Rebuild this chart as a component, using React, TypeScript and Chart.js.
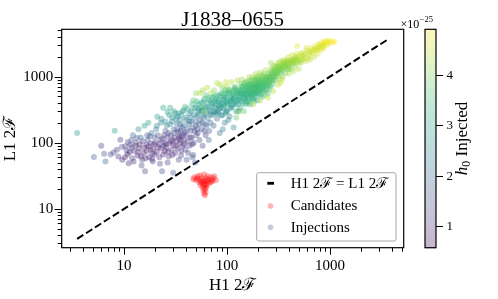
import React, { useEffect, useRef } from "react";
import { Chart, registerables } from "chart.js";

Chart.register(...registerables);

// ---------- text ----------
const TITLE = "J1838–0655";
const X_LABEL = "H1 2ℱ";
const Y_LABEL = "L1 2ℱ";
const LEGEND_LABELS = ["H1 2ℱ = L1 2ℱ", "Candidates", "Injections"];
const CB_LABEL_MAIN = "h";
const CB_LABEL_SUB = "0";
const CB_LABEL_REST = " Injected";
const CB_EXPONENT_BASE = "×10";
const CB_EXPONENT_POWER = "−25";

// ---------- axes ----------
const X_RANGE = [2.48, 5200];
const Y_RANGE = [2.58, 5190];
const MAJOR_TICKS = [10, 100, 1000];
const CB_RANGE = [0.57, 4.91];
const CB_TICKS = [1, 2, 3, 4];

// ---------- data ----------
const EQUALITY_LINE = [3.5, 3600];

// [H1 2F, L1 2F]
const candidates: [number, number][] = [
  [48, 30], [52, 31], [55, 32], [60, 33], [65, 31], [70, 30], [74, 29], [78, 27],
  [50, 27], [53, 28], [57, 29], [62, 29], [66, 28], [71, 27], [56, 26], [59, 27],
  [63, 26], [67, 25], [58, 24], [61, 24], [64, 23], [55, 23], [60, 22], [63, 21],
  [58, 21], [61, 20], [59, 19], [62, 18], [60, 17], [61, 16], [57, 25], [65, 27],
  [69, 25], [54, 25], [72, 26], [51, 29], [75, 31], [47, 28], [60, 26], [62, 23],
];

// [H1 2F, L1 2F, h0 (x1e-25)]
const injectionsLow: [number, number, number][] = [
  [3.5, 140, 2.7], [5.1, 61, 1.8], [6.0, 90, 1.3], [6.4, 68, 1.6], [6.6, 52, 1.9],
  [7.4, 66, 1.5], [7.9, 71, 1.4], [8.5, 78, 1.2], [8.1, 151, 2.9], [9.2, 111, 1.3],
  [9.6, 55, 1.0], [8.8, 62, 1.1], [9.5, 86, 1.6],
  [10.3, 88, 1.2], [11.5, 93, 1.1], [11.1, 49, 1.0], [10.8, 66, 0.9], [12.0, 58, 1.3],
  [12.5, 75, 1.1], [13.0, 100, 1.6], [13.5, 64, 0.9], [14.0, 82, 1.0], [14.5, 120, 1.9],
  [15.0, 55, 1.2], [15.5, 70, 0.8], [16.0, 37, 1.5], [16.5, 92, 1.1], [17.0, 110, 1.4],
  [17.5, 60, 1.0], [18.0, 78, 0.9], [18.5, 140, 2.2], [19.0, 52, 1.3], [19.5, 95, 1.0],
  [12.2, 130, 2.0], [13.8, 160, 2.6], [15.8, 180, 2.8], [17.2, 200, 2.9], [11.8, 110, 1.7],
  [14.8, 45, 1.4], [16.8, 130, 1.8], [18.8, 68, 1.1], [19.8, 120, 1.5], [10.6, 76, 1.3],
  [10.2, 60, 1.0], [10.9, 102, 1.4], [11.3, 72, 0.9], [11.9, 84, 1.2], [12.4, 52, 1.1],
  [12.9, 90, 1.0], [13.3, 118, 1.5], [13.7, 72, 1.2], [14.2, 95, 0.8], [14.6, 62, 1.0],
  [15.2, 105, 1.3], [15.7, 84, 0.9], [16.2, 58, 1.1], [16.6, 75, 1.2], [17.3, 88, 0.8],
  [17.8, 125, 1.6], [18.3, 98, 1.2], [18.7, 56, 1.0], [19.2, 80, 0.9], [19.7, 66, 1.1],
];

const injectionsMid: [number, number, number][] = [
  [20.5, 160, 2.3], [21, 247, 2.9], [21.5, 85, 1.0], [22, 60, 1.2], [22.5, 110, 1.1],
  [23.4, 37, 1.6], [24, 339, 3.0], [24.5, 130, 1.4], [25, 75, 0.9], [25.5, 95, 1.0],
  [26, 180, 2.4], [26.5, 50, 1.3], [27, 140, 1.2], [28, 339, 3.1], [28.5, 105, 1.1],
  [29, 210, 2.6], [29.5, 65, 1.0], [30, 35, 1.7], [30.5, 160, 1.9], [31, 120, 1.2],
  [32, 88, 1.0], [33, 250, 2.7], [33.5, 145, 1.5], [34, 55, 1.4], [35, 190, 2.2],
  [35.5, 110, 1.1], [36, 75, 1.2], [37, 300, 2.9], [38, 135, 1.3], [39, 350, 3.5],
  [39.5, 220, 2.5], [22.8, 200, 2.5], [27.5, 260, 2.8], [31.5, 280, 2.7], [36.5, 170, 1.6],
  [24.2, 90, 1.3], [26.8, 72, 1.1], [32.5, 195, 2.0], [38.5, 95, 1.4], [34.5, 125, 1.0],
  [41, 160, 1.7], [42, 70, 1.3], [43, 280, 2.6], [44, 120, 1.2], [45, 210, 2.0],
  [46, 95, 1.1], [47, 440, 3.7], [47, 65, 1.5], [48, 330, 2.9], [49, 50, 1.6],
  [50, 180, 1.4], [51, 250, 2.3], [52, 140, 1.2], [53, 380, 3.1], [54, 110, 1.3],
  [55, 565, 4.3], [55, 220, 1.8], [56, 300, 2.8], [56.5, 345, 3.8], [57, 160, 1.5],
  [58, 90, 1.4], [59, 420, 3.2], [60, 260, 2.4], [61, 190, 1.7], [62, 130, 1.3],
  [63, 350, 2.9], [64, 680, 4.4], [65, 230, 2.1], [66, 480, 3.4], [67, 150, 1.6],
  [68, 300, 2.6], [69, 200, 1.9], [70, 400, 3.0], [70, 560, 4.2], [44.5, 240, 2.4],
  [52.5, 300, 2.5], [58.5, 240, 2.2], [62.5, 520, 3.6], [66.5, 110, 1.8], [48.5, 150, 1.4],
  [20.2, 100, 1.3], [20.8, 72, 0.9], [21.3, 130, 1.5], [21.8, 95, 1.1], [22.3, 48, 1.4],
  [22.9, 82, 1.0], [23.5, 115, 1.2], [24.0, 66, 0.8], [24.7, 100, 1.1], [25.2, 150, 1.8],
  [25.8, 84, 1.0], [26.3, 120, 1.3], [27.2, 62, 1.2], [27.8, 98, 0.9], [28.3, 130, 1.4],
  [28.9, 78, 1.0], [29.6, 110, 1.2], [30.2, 92, 0.9], [30.8, 140, 1.5], [31.4, 70, 1.1],
  [32.2, 105, 1.0], [32.8, 160, 1.7], [33.3, 82, 1.2], [34.2, 118, 1.1], [34.8, 98, 0.9],
  [35.3, 150, 1.4], [35.9, 64, 1.3], [36.4, 125, 1.2], [37.2, 90, 1.0], [37.8, 180, 1.9],
  [38.3, 110, 1.2], [38.9, 145, 1.5], [39.4, 78, 1.3], [40.2, 130, 1.4], [41.5, 105, 1.2],
  [42.5, 190, 1.9], [43.2, 90, 1.1], [44.3, 150, 1.6], [45.5, 120, 1.3], [46.5, 170, 1.7],
  [47.5, 100, 1.3], [49.5, 210, 2.0], [50.5, 130, 1.5], [51.5, 160, 1.6], [53.5, 190, 1.9],
  [57.5, 200, 2.0], [60.5, 150, 1.7], [63.5, 180, 1.9], [46, 60, 1.8], [40.5, 55, 1.5],
  [20.8, 180, 2.5], [23, 230, 2.7], [25, 210, 2.6], [26.5, 290, 2.9], [28, 190, 2.4],
  [29.5, 240, 2.7], [30.5, 300, 2.9], [32, 230, 2.6], [34, 280, 2.8], [35, 220, 2.4],
  [36, 260, 2.7], [38, 310, 2.9], [40, 240, 2.5], [41.5, 330, 3.0], [43, 210, 2.3],
  [45, 300, 2.8], [46, 380, 3.1], [48, 260, 2.6], [50, 340, 2.9], [51, 420, 3.3],
  [53, 270, 2.6], [54, 330, 2.8], [57, 400, 3.1], [58, 310, 2.7], [60, 460, 3.3],
  [61, 340, 2.8], [63, 280, 2.6], [65, 400, 3.0], [67, 330, 2.8], [68, 440, 3.2],
  [69, 270, 2.5], [50, 560, 4.1], [58, 620, 4.3], [60, 300, 4.0],
];

const injectionsHigh: [number, number, number][] = [
  [72, 260, 2.3], [74, 180, 1.8], [75, 620, 4.1], [76, 340, 2.9], [78, 450, 3.2],
  [80, 800, 4.4], [80, 230, 2.0], [82, 300, 2.6], [84, 520, 3.4], [85, 140, 2.1],
  [86, 380, 2.9], [88, 260, 2.4], [90, 680, 3.9], [92, 330, 2.7], [94, 450, 3.1],
  [95, 200, 2.2], [97, 820, 4.5], [98, 550, 3.3], [100, 300, 2.6], [102, 400, 2.9],
  [104, 640, 3.6], [106, 250, 2.4], [108, 480, 3.1], [110, 830, 4.4], [112, 360, 2.8],
  [114, 560, 3.4], [116, 170, 2.6], [118, 420, 3.0], [120, 700, 3.8], [122, 300, 2.7],
  [124, 520, 3.2], [126, 880, 4.3], [128, 380, 2.9], [130, 620, 3.5], [73, 400, 3.1],
  [83, 360, 2.7], [93, 560, 3.5], [103, 220, 2.3], [113, 460, 3.0], [123, 240, 3.8],
  [91, 160, 2.4], [77, 300, 2.5], [99, 420, 3.0], [117, 620, 3.6],
  [71, 350, 2.9], [72, 480, 3.3], [74, 290, 2.6], [76, 420, 3.1], [78, 370, 2.9],
  [79, 520, 3.4], [81, 280, 2.6], [83, 440, 3.1], [85, 330, 2.8], [87, 500, 3.3],
  [89, 400, 3.0], [90, 260, 2.6], [92, 460, 3.2], [94, 360, 2.9], [96, 620, 3.6],
  [98, 300, 2.7], [100, 500, 3.2], [101, 380, 3.0], [105, 560, 3.4], [107, 330, 2.8],
  [109, 430, 3.1], [111, 600, 3.5], [115, 380, 3.0], [119, 500, 3.3], [121, 640, 3.6],
  [125, 430, 3.1], [127, 560, 3.4], [129, 300, 2.9],
  [75, 500, 3.3], [78, 280, 2.7], [82, 420, 3.1], [86, 330, 2.9], [88, 560, 3.4],
  [92, 380, 3.0], [95, 480, 3.2], [97, 280, 2.8], [103, 600, 3.4], [106, 420, 3.1],
  [110, 340, 2.9], [112, 520, 3.2], [116, 460, 3.1], [118, 680, 3.5], [122, 380, 3.0],
  [126, 580, 3.3], [130, 460, 3.2], [85, 760, 4.4], [100, 700, 4.3], [130, 300, 4.2],
  [132, 450, 3.1], [134, 335, 2.9], [136, 780, 3.9], [138, 540, 3.3], [140, 900, 4.2],
  [142, 400, 3.0], [144, 650, 3.5], [146, 300, 3.7], [148, 480, 3.1], [150, 720, 3.7],
  [152, 560, 3.3], [154, 420, 3.0], [157, 400, 4.2], [158, 850, 4.0], [160, 600, 3.4],
  [162, 480, 3.2], [164, 980, 4.3], [166, 700, 3.6], [168, 380, 3.0], [170, 540, 3.3],
  [172, 820, 3.9], [174, 640, 3.5], [176, 460, 3.2], [178, 1000, 4.2], [180, 720, 3.6],
  [182, 560, 3.3], [184, 420, 3.8], [186, 880, 3.9], [188, 640, 3.5], [190, 500, 3.2],
  [192, 1100, 4.3], [194, 760, 3.6], [196, 600, 3.4], [198, 440, 3.1], [200, 960, 4.0],
  [203, 700, 3.5], [206, 540, 3.3], [210, 440, 4.4], [212, 1150, 4.2], [215, 820, 3.7],
  [218, 640, 3.4], [220, 500, 3.3], [224, 1000, 3.9], [228, 760, 3.6], [232, 600, 3.4],
  [236, 1250, 4.3], [240, 880, 3.8], [244, 700, 3.5], [248, 560, 3.4], [250, 1100, 4.0],
  [155, 660, 3.5], [165, 520, 3.2], [175, 760, 3.7], [185, 600, 3.4], [195, 900, 3.8],
  [205, 820, 3.6], [225, 680, 3.5], [235, 520, 4.0], [245, 960, 3.8], [145, 560, 3.4],
  [208, 620, 3.5], [230, 900, 3.8], [242, 780, 3.7], [162, 760, 3.7], [188, 760, 3.6],
  [131, 500, 3.3], [133, 640, 3.5], [137, 420, 3.2], [139, 700, 3.6], [141, 560, 3.4],
  [143, 480, 3.3], [147, 800, 3.8], [149, 600, 3.5], [151, 380, 3.1], [153, 690, 3.6],
  [156, 520, 3.3], [159, 740, 3.7], [161, 420, 3.2], [163, 620, 3.5], [167, 880, 3.9],
  [169, 480, 3.3], [171, 680, 3.6], [173, 560, 3.4], [177, 900, 3.9], [179, 600, 3.5],
  [181, 460, 3.2], [183, 780, 3.7], [187, 540, 3.4], [189, 940, 4.0], [191, 680, 3.6],
  [193, 560, 3.4], [197, 820, 3.8], [199, 620, 3.5], [202, 1020, 4.1], [204, 580, 3.4],
  [207, 760, 3.7], [209, 900, 3.9], [211, 680, 3.6], [214, 540, 3.4], [216, 1050, 4.1],
  [219, 760, 3.7], [222, 880, 3.8], [226, 620, 3.5], [229, 1080, 4.1], [233, 720, 3.6],
  [238, 980, 3.9], [241, 640, 3.6], [246, 840, 3.8],
  [134, 560, 3.3], [138, 620, 3.4], [142, 720, 3.6], [146, 520, 3.3], [150, 460, 3.2],
  [152, 820, 3.8], [156, 600, 3.4], [160, 700, 3.6], [164, 560, 3.4], [168, 760, 3.6],
  [172, 620, 3.5], [176, 700, 3.6], [180, 540, 3.4], [184, 680, 3.5], [188, 860, 3.8],
  [192, 720, 3.6], [196, 700, 3.5], [200, 800, 3.7], [204, 660, 3.5], [208, 860, 3.7],
  [212, 760, 3.6], [216, 700, 3.6], [220, 940, 3.8], [226, 820, 3.7], [232, 760, 3.6],
  [238, 860, 3.7], [244, 1000, 3.9], [180, 380, 4.3],
];

const injectionsTop: [number, number, number][] = [
  [255, 820, 3.7], [260, 650, 3.5], [265, 1300, 4.2], [270, 950, 3.8], [275, 760, 3.6],
  [280, 890, 3.7], [285, 1450, 4.3], [290, 1100, 3.9], [295, 880, 3.6], [300, 1250, 4.0],
  [305, 1000, 3.8], [310, 1600, 4.3], [315, 1150, 3.9], [320, 920, 4.3], [325, 1350, 4.0],
  [330, 1700, 4.4], [335, 1100, 3.8], [340, 1500, 4.1], [345, 1250, 3.9], [350, 1000, 4.2],
  [360, 1800, 4.4], [365, 1400, 4.0], [370, 1150, 3.9], [380, 1600, 4.2], [385, 1300, 4.0],
  [390, 1950, 4.5], [400, 1100, 4.3], [405, 1500, 4.1], [410, 1750, 4.2], [420, 1300, 4.0],
  [425, 2100, 4.5], [430, 1550, 4.1], [440, 1200, 4.4], [450, 1850, 4.3], [460, 1450, 4.1],
  [470, 2200, 4.6], [480, 2900, 4.7], [490, 1650, 4.2], [495, 1300, 4.4], [500, 2000, 4.4],
  [262, 1050, 3.8], [278, 1200, 4.0], [298, 1400, 4.1], [318, 1300, 4.0], [342, 900, 4.3],
  [355, 1600, 4.2], [395, 1400, 4.1], [445, 1650, 4.2], [475, 1900, 4.4], [268, 1600, 4.2],
  [312, 750, 4.4],
  [251, 740, 3.7], [256, 1000, 3.9], [259, 880, 3.8], [263, 720, 3.6], [267, 1150, 4.0],
  [272, 860, 3.8], [276, 1000, 3.9], [282, 1300, 4.1], [287, 1000, 3.9], [292, 1250, 4.0],
  [296, 1050, 3.9], [302, 1450, 4.2], [307, 1150, 3.9], [313, 1400, 4.1], [322, 1200, 4.0],
  [328, 1550, 4.2], [338, 1300, 4.0], [348, 1700, 4.3], [358, 1350, 4.1], [368, 1650, 4.2],
  [378, 1450, 4.1], [388, 1750, 4.3], [398, 1300, 4.1], [415, 1600, 4.2], [435, 1800, 4.3],
  [455, 1600, 4.2], [465, 2000, 4.4], [485, 1800, 4.3],
  [250, 900, 3.8], [256, 820, 3.7], [262, 960, 3.8], [268, 900, 3.8], [274, 1100, 3.9],
  [280, 1000, 3.8], [288, 1150, 3.9], [296, 1200, 4.0], [304, 1100, 3.9], [312, 1250, 4.0],
  [320, 1400, 4.1], [330, 1300, 4.0], [340, 1400, 4.1], [352, 1450, 4.1], [364, 1500, 4.1],
  [376, 1550, 4.2], [392, 1600, 4.2], [408, 1650, 4.2], [424, 1700, 4.3], [442, 1750, 4.3],
  [462, 1800, 4.3], [250, 480, 4.4], [280, 600, 4.4], [330, 800, 4.5],
  [520, 1600, 4.3], [540, 2300, 4.5], [560, 1900, 4.4], [580, 1700, 4.5], [600, 2500, 4.6],
  [620, 2100, 4.5], [640, 1800, 4.4], [660, 2700, 4.6], [680, 2300, 4.5], [700, 2000, 4.5],
  [720, 2900, 4.7], [740, 2500, 4.6], [760, 2200, 4.6], [780, 3100, 4.7], [800, 2700, 4.6],
  [820, 2500, 4.7], [840, 3300, 4.8], [860, 2900, 4.7], [880, 3100, 4.7], [900, 3400, 4.8],
  [930, 3000, 4.7], [960, 3500, 4.8], [990, 3200, 4.8], [1020, 3400, 4.8], [1070, 3400, 4.9],
  [1100, 3300, 4.9], [550, 2100, 4.4], [610, 1900, 4.5], [650, 2400, 4.5], [710, 2600, 4.6],
  [770, 2800, 4.6], [830, 3000, 4.7], [870, 2700, 4.7], [940, 3300, 4.8], [590, 2700, 4.6],
  [530, 1900, 4.4], [505, 1700, 4.3], [515, 2200, 4.5], [545, 1800, 4.4], [570, 2200, 4.5],
  [630, 2300, 4.5], [690, 2500, 4.6], [750, 2600, 4.6], [810, 2900, 4.7], [890, 3300, 4.8],
];

const injections = [...injectionsLow, ...injectionsMid, ...injectionsHigh, ...injectionsTop];

// ---------- styling ----------
const FONT = "'Liberation Serif', 'DejaVu Serif', serif";
const ALPHA = 0.3;
const POINT_ALPHA = 0.36;
const VIRIDIS = [
  "#440154", "#482475", "#414487", "#355f8d", "#2a788e", "#21918c",
  "#22a884", "#44bf70", "#7ad151", "#bddf26", "#fde725",
];

function hexToRgb(h: string): number[] {
  return [1, 3, 5].map((i) => parseInt(h.slice(i, i + 2), 16));
}

function viridis(t: number, a: number): string {
  const tt = Math.max(0, Math.min(1, t));
  const n = VIRIDIS.length - 1;
  const i = Math.min(n - 1, Math.floor(tt * n));
  const f = tt * n - i;
  const c0 = hexToRgb(VIRIDIS[i]);
  const c1 = hexToRgb(VIRIDIS[i + 1]);
  const c = c0.map((v, k) => Math.round(v + (c1[k] - v) * f));
  return `rgba(${c[0]},${c[1]},${c[2]},${a})`;
}

const norm = (v: number) => (v - CB_RANGE[0]) / (CB_RANGE[1] - CB_RANGE[0]);

const CB_LEFT = 425;
const CB_RIGHT = 436;

const decorPlugin = {
  id: "decor",
  afterDraw(chart: any) {
    const { ctx, chartArea: a, scales } = chart;
    const xs = scales.x;
    const ys = scales.y;
    ctx.save();
    ctx.fillStyle = "#000";
    ctx.strokeStyle = "#000";

    // spines
    ctx.lineWidth = 1.2;
    ctx.strokeRect(a.left, a.top, a.right - a.left, a.bottom - a.top);

    // tick marks
    ctx.lineWidth = 1;
    for (let d = 1; d <= 1000; d *= 10) {
      for (let m = 1; m <= 9; m++) {
        const v = d * m;
        const len = m === 1 ? 7 : 4;
        if (v >= X_RANGE[0] && v <= X_RANGE[1]) {
          const px = Math.round(xs.getPixelForValue(v)) + 0.5;
          ctx.beginPath();
          ctx.moveTo(px, a.bottom);
          ctx.lineTo(px, a.bottom + len);
          ctx.stroke();
        }
        if (v >= Y_RANGE[0] && v <= Y_RANGE[1]) {
          const py = Math.round(ys.getPixelForValue(v)) + 0.5;
          ctx.beginPath();
          ctx.moveTo(a.left, py);
          ctx.lineTo(a.left - len, py);
          ctx.stroke();
        }
      }
    }

    // title
    ctx.textAlign = "center";
    ctx.textBaseline = "alphabetic";
    ctx.font = `21px ${FONT}`;
    ctx.fillText(TITLE, (a.left + a.right) / 2, 26);

    // axis labels
    ctx.font = `17px ${FONT}`;
    ctx.fillText(X_LABEL, (a.left + a.right) / 2, 289.5);
    ctx.save();
    ctx.translate(15, (a.top + a.bottom) / 2);
    ctx.rotate(-Math.PI / 2);
    ctx.fillText(Y_LABEL, 0, 0);
    ctx.restore();

    // legend
    const lx = 256.7, ly = 172.7, lw = 139.3, lh = 68.3;
    ctx.save();
    ctx.fillStyle = "rgba(255,255,255,0.8)";
    ctx.strokeStyle = "#a8a8a8";
    ctx.lineWidth = 1;
    ctx.beginPath();
    if ((ctx as any).roundRect) (ctx as any).roundRect(lx, ly, lw, lh, 2);
    else ctx.rect(lx, ly, lw, lh);
    ctx.fill();
    ctx.stroke();
    ctx.restore();
    const rows = [183.3, 206, 227.3];
    ctx.fillStyle = "#000";
    ctx.fillRect(267.3, rows[0] - 1.4, 6.7, 2.8);
    ctx.beginPath();
    ctx.fillStyle = "rgba(255,0,0,0.3)";
    ctx.arc(270.5, rows[1], 2.8, 0, Math.PI * 2);
    ctx.fill();
    ctx.beginPath();
    ctx.fillStyle = viridis(0.25, ALPHA);
    ctx.arc(270.5, rows[2], 2.8, 0, Math.PI * 2);
    ctx.fill();
    ctx.fillStyle = "#000";
    ctx.font = `15px ${FONT}`;
    ctx.textAlign = "left";
    ctx.textBaseline = "middle";
    LEGEND_LABELS.forEach((t, i) => ctx.fillText(t, 290.7, rows[i] + 0.5));

    // colorbar
    const top = a.top, bot = a.bottom, h = bot - top;
    for (let y = 0; y < h; y++) {
      const v = CB_RANGE[1] - ((y + 0.5) / h) * (CB_RANGE[1] - CB_RANGE[0]);
      ctx.fillStyle = viridis(norm(v), ALPHA);
      ctx.fillRect(CB_LEFT, top + y, CB_RIGHT - CB_LEFT, 1.05);
    }
    ctx.strokeStyle = "#000";
    ctx.lineWidth = 1.2;
    ctx.strokeRect(CB_LEFT, top, CB_RIGHT - CB_LEFT, h);
    ctx.lineWidth = 1;
    ctx.fillStyle = "#000";
    ctx.font = `13px ${FONT}`;
    ctx.textAlign = "left";
    ctx.textBaseline = "middle";
    CB_TICKS.forEach((v) => {
      const py = Math.round(bot - norm(v) * h) + 0.5;
      ctx.beginPath();
      ctx.moveTo(CB_RIGHT, py);
      ctx.lineTo(CB_RIGHT + 7, py);
      ctx.stroke();
      ctx.fillText(String(v), 446.5, py + 0.5);
    });

    // exponent
    ctx.textBaseline = "alphabetic";
    ctx.font = `12px ${FONT}`;
    ctx.fillText(CB_EXPONENT_BASE, 400.5, 28);
    const bw = ctx.measureText(CB_EXPONENT_BASE).width;
    ctx.font = `8.5px ${FONT}`;
    ctx.fillText(CB_EXPONENT_POWER, 400.5 + bw + 0.5, 22);

    // colorbar label
    ctx.save();
    ctx.translate(467, (top + bot) / 2);
    ctx.rotate(-Math.PI / 2);
    ctx.font = `italic 17px ${FONT}`;
    const w1 = ctx.measureText(CB_LABEL_MAIN).width;
    ctx.font = `12px ${FONT}`;
    const w2 = ctx.measureText(CB_LABEL_SUB).width;
    ctx.font = `17px ${FONT}`;
    const w3 = ctx.measureText(CB_LABEL_REST).width;
    let sx = -(w1 + w2 + w3) / 2;
    ctx.textAlign = "left";
    ctx.font = `italic 17px ${FONT}`;
    ctx.fillText(CB_LABEL_MAIN, sx, 0);
    sx += w1;
    ctx.font = `12px ${FONT}`;
    ctx.fillText(CB_LABEL_SUB, sx, 3);
    sx += w2;
    ctx.font = `17px ${FONT}`;
    ctx.fillText(CB_LABEL_REST, sx, 0);
    ctx.restore();

    ctx.restore();
  },
};

export default function App() {
  const ref = useRef<HTMLCanvasElement | null>(null);

  useEffect(() => {
    if (!ref.current) return;
    const chart = new Chart(ref.current, {
      type: "scatter",
      data: {
        datasets: [
          {
            label: LEGEND_LABELS[0],
            data: EQUALITY_LINE.map((v) => ({ x: v, y: v })),
            showLine: true,
            borderColor: "#000",
            borderWidth: 2,
            borderDash: [7.4, 3.2],
            pointRadius: 0,
            order: 3,
          } as any,
          {
            label: LEGEND_LABELS[2],
            data: injections.map((p) => ({ x: p[0], y: p[1] })),
            backgroundColor: injections.map((p) => viridis(norm(p[2]), POINT_ALPHA)),
            borderWidth: 0,
            pointRadius: 3,
            order: 2,
          },
          {
            label: LEGEND_LABELS[1],
            data: candidates.map((p) => ({ x: p[0], y: p[1] })),
            backgroundColor: "rgba(255,0,0,0.3)",
            borderWidth: 0,
            pointRadius: 3,
            order: 1,
          },
        ],
      },
      options: {
        animation: false,
        responsive: false,
        events: [],
        layout: { padding: { top: 29.3, right: 94.3, left: 0, bottom: 0 } },
        plugins: {
          legend: { display: false },
          tooltip: { enabled: false },
          title: { display: false },
        },
        scales: {
          x: {
            type: "logarithmic",
            min: X_RANGE[0],
            max: X_RANGE[1],
            grid: { display: false, drawTicks: false },
            border: { display: false },
            afterBuildTicks: (s: any) => {
              s.ticks = MAJOR_TICKS.map((v) => ({ value: v }));
            },
            afterFit: (s: any) => {
              s.height = 51.3;
            },
            ticks: {
              autoSkip: false,
              maxRotation: 0,
              padding: 9.3,
              color: "#000",
              font: { family: FONT, size: 15 },
              callback: (v: any) => String(v),
            },
          },
          y: {
            type: "logarithmic",
            min: Y_RANGE[0],
            max: Y_RANGE[1],
            grid: { display: false, drawTicks: false },
            border: { display: false },
            afterBuildTicks: (s: any) => {
              s.ticks = MAJOR_TICKS.map((v) => ({ value: v }));
            },
            afterFit: (s: any) => {
              s.width = 61.7;
            },
            ticks: {
              autoSkip: false,
              padding: 8.4,
              color: "#000",
              font: { family: FONT, size: 15 },
              callback: (v: any) => String(v),
            },
          },
        },
      },
      plugins: [decorPlugin],
    } as any);
    return () => chart.destroy();
  }, []);

  return (
    <div style={{ position: "absolute", left: 0, top: 0, width: 498, height: 299, background: "#fff" }}>
      <canvas ref={ref} width={498} height={299} style={{ width: 498, height: 299, display: "block" }} />
    </div>
  );
}
